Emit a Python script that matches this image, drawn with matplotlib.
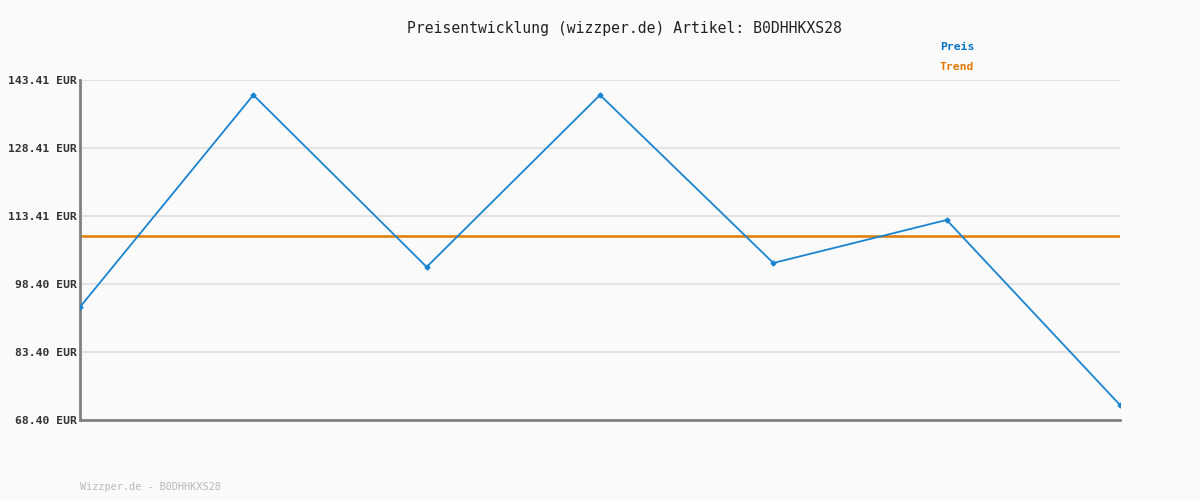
import matplotlib.pyplot as plt
import numpy as np

plt.rcParams['font.family'] = ['DejaVu Sans Mono']

preis = [93.33, 140.10, 102.16, 140.10, 103.04, 112.53, 71.71]
trend = 109.00
yticks = [68.40, 83.40, 98.40, 113.41, 128.41, 143.41]
ylabels = ["68.40 EUR", "83.40 EUR", "98.40 EUR", "113.41 EUR", "128.41 EUR", "143.41 EUR"]
artikel = "B0DHHKXS28"

bg = "#fafafa"
blue = "#1a84d0"
orange = "#e07b00"

fig = plt.figure(figsize=(12, 5), dpi=100, facecolor=bg)
ax = fig.add_axes([80 / 1200, 80 / 500, 1040 / 1200, 340 / 500], facecolor=bg)

x = np.arange(len(preis))
ax.plot(x, preis, color=blue, lw=1.3, marker="D", ms=2.5, zorder=3)
ax.axhline(trend, color=orange, lw=1.8, zorder=2)

ax.set_xlim(0, len(preis) - 1)
ax.set_ylim(yticks[0], yticks[-1])
ax.set_yticks(yticks)
ax.set_yticklabels(ylabels, fontsize=8.2, fontweight="bold", color="#333333")
ax.set_xticks([])
ax.tick_params(axis="y", length=0, pad=2)
ax.grid(axis="y", color="#e3e3e3", lw=1.5)
ax.set_axisbelow(True)

for s in ["top", "right"]:
    ax.spines[s].set_visible(False)
for s in ["left", "bottom"]:
    ax.spines[s].set_color("#808080")
    ax.spines[s].set_linewidth(2)

fig.text(624 / 1200, 1 - 28 / 500, "Preisentwicklung (wizzper.de) Artikel: " + artikel,
         ha="center", va="center", fontsize=10.6, color="#222222")
fig.text(940 / 1200, 1 - 47 / 500, "Preis", ha="left", va="center",
         fontsize=8.2, fontweight="bold", color="#0a74c4")
fig.text(940 / 1200, 1 - 67 / 500, "Trend", ha="left", va="center",
         fontsize=8.2, fontweight="bold", color=orange)
fig.text(80 / 1200, 1 - 487 / 500, "Wizzper.de - " + artikel, ha="left", va="center",
         fontsize=7.3, color="#b8b8b8")

fig.savefig("out.png", dpi=100, facecolor=bg)
